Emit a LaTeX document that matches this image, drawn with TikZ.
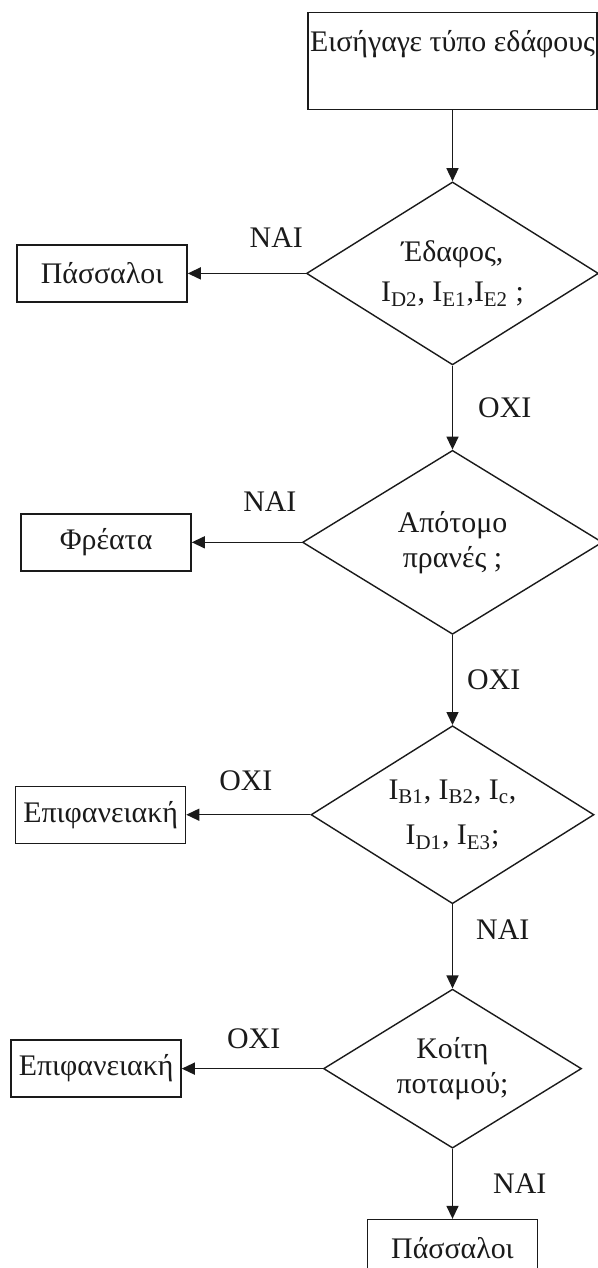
\documentclass[tikz,border=0pt]{standalone}
\usepackage{fontspec}
\setmainfont{Liberation Serif}
\usepackage{xcolor}
\usepackage{tikz}
\usetikzlibrary{positioning, arrows.meta, shapes.geometric}
\definecolor{ink}{HTML}{1A1A1A}
\tikzset{
  startbox/.style = {rectangle, draw=ink, line width=0.8pt, inner sep=0pt,
                     minimum width=5.78cm, text height=0.78cm, text depth=1.16cm,
                     text=ink, font=\fontsize{17}{20}\selectfont},
  decision/.style = {diamond, draw=ink, line width=0.8pt, inner sep=0pt, aspect=1.6,
                     align=center, text=ink, font=\fontsize{17}{20}\selectfont},
  outbox/.style   = {rectangle, draw=ink, line width=0.8pt, inner sep=0pt,
                     minimum width=3.4cm, minimum height=1.14cm,
                     text=ink, font=\fontsize{17}{20}\selectfont},
  lbl/.style      = {inner sep=0pt, text=ink, font=\fontsize{17}{20}\selectfont},
  ar/.style       = {-{Triangle[length=2.6mm,width=2.4mm]}, line width=0.8pt, draw=ink},
}

\begin{document}
\begin{tikzpicture}
  \useasboundingbox (0,0) rectangle (11.96,-25.36);

  \node[startbox] (start) at (9.05,-1.22) {Εισήγαγε τύπο εδάφους};

  \node[decision, minimum width=5.84cm, minimum height=3.66cm, below=1.42cm of start] (soil)
       {Έδαφος,\\[3pt] I\textsubscript{D2}, I\textsubscript{E1},I\textsubscript{E2} ;};
  \node[outbox, left=2.36cm of soil] (piles1) {Πάσσαλοι};

  \node[decision, minimum width=6.0cm, minimum height=3.68cm, below=1.68cm of soil] (slope)
       {Απότομο\\πρανές ;};
  \node[outbox, left=2.2cm of slope] (wells) {Φρέατα};

  \node[decision, minimum width=5.66cm, minimum height=3.56cm, below=1.8cm of slope] (cls)
       {I\textsubscript{B1}, I\textsubscript{B2}, I\textsubscript{c},\\[6pt] I\textsubscript{D1}, I\textsubscript{E3};};
  \node[outbox, left=2.48cm of cls] (surf1) {Επιφανειακή};

  \node[decision, minimum width=5.16cm, minimum height=3.18cm, below=1.68cm of cls] (river)
       {Κοίτη\\ποταμού;};
  \node[outbox, left=2.82cm of river] (surf2) {Επιφανειακή};

  \node[outbox, below=1.4cm of river] (piles2) {Πάσσαλοι};

  \draw[ar] (start) -- (soil);
  \draw[ar] (soil) -- node[lbl, above=0.5cm, pos=0.25] {ΝΑΙ} (piles1);
  \draw[ar] (soil) -- node[lbl, right=0.5cm] {ΟΧΙ} (slope);
  \draw[ar] (slope) -- node[lbl, above=0.6cm, pos=0.29] {ΝΑΙ} (wells);
  \draw[ar] (slope) -- node[lbl, right=0.28cm] {ΟΧΙ} (cls);
  \draw[ar] (cls) -- node[lbl, above=0.46cm, pos=0.52] {ΟΧΙ} (surf1);
  \draw[ar] (cls) -- node[lbl, right=0.46cm, pos=0.3] {ΝΑΙ} (river);
  \draw[ar] (river) -- node[lbl, above=0.38cm, pos=0.49] {ΟΧΙ} (surf2);
  \draw[ar] (river) -- node[lbl, right=0.8cm] {ΝΑΙ} (piles2);

\end{tikzpicture}
\end{document}
